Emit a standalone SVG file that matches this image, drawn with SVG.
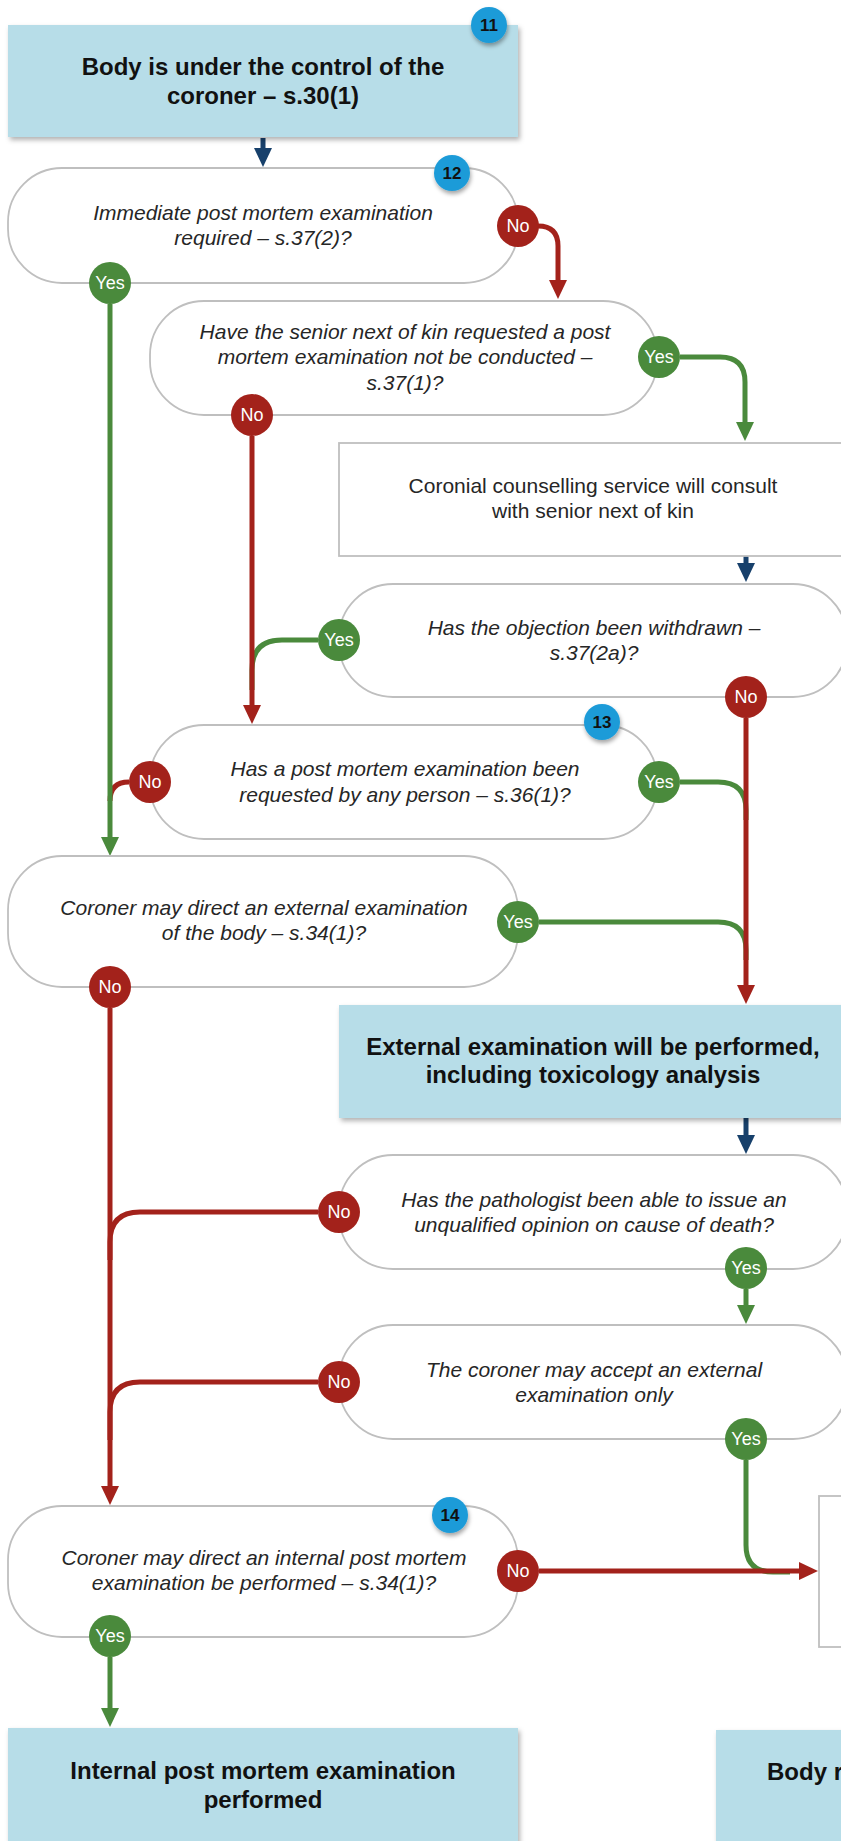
<svg xmlns="http://www.w3.org/2000/svg" width="841" height="1841" viewBox="0 0 841 1841">
<defs>
<style>
.blue{fill:#B7DDE8;filter:url(#sh)}
.dec{fill:#fff;stroke:#BFBFBF;stroke-width:1.8}
.box{fill:#fff;stroke:#BFBFBF;stroke-width:1.8}
.badge{fill:#1C9BD8;filter:url(#sh2)}
.bt{font-family:"Liberation Sans",Arial,sans-serif;font-weight:bold;font-size:17px;fill:#111;text-anchor:middle}
.title{font-family:"Liberation Sans",Arial,sans-serif;font-weight:bold;font-size:24px;fill:#111;text-anchor:middle}
.q{font-family:"Liberation Sans",Arial,sans-serif;font-style:italic;font-size:21px;fill:#262626;text-anchor:middle}
.t{font-family:"Liberation Sans",Arial,sans-serif;font-size:21px;fill:#262626;text-anchor:middle}
.lab{font-family:"Liberation Sans",Arial,sans-serif;font-size:18px;fill:#fff;text-anchor:middle}
.yes{fill:#4A8A3C}
.no{fill:#A3221B}
.cg{fill:none;stroke:#4A8A3C;stroke-width:5;marker-end:url(#ag)}
.cg0{fill:none;stroke:#4A8A3C;stroke-width:5}
.cr{fill:none;stroke:#A3221B;stroke-width:5;marker-end:url(#ar)}
.cr0{fill:none;stroke:#A3221B;stroke-width:5}
.cn{fill:none;stroke:#17406B;stroke-width:5;marker-end:url(#an)}
</style>
<filter id="sh" x="-5%" y="-10%" width="115%" height="130%">
<feDropShadow dx="2" dy="3" stdDeviation="2.5" flood-color="#000" flood-opacity="0.3"/>
</filter>
<filter id="sh2" x="-30%" y="-30%" width="170%" height="170%">
<feDropShadow dx="1" dy="3" stdDeviation="2" flood-color="#000" flood-opacity="0.35"/>
</filter>
<marker id="ag" markerUnits="userSpaceOnUse" markerWidth="20" markerHeight="20" refX="1" refY="10" orient="auto"><path d="M0,1 L19,10 L0,19 z" fill="#4A8A3C"/></marker>
<marker id="ar" markerUnits="userSpaceOnUse" markerWidth="20" markerHeight="20" refX="1" refY="10" orient="auto"><path d="M0,1 L19,10 L0,19 z" fill="#A3221B"/></marker>
<marker id="an" markerUnits="userSpaceOnUse" markerWidth="20" markerHeight="20" refX="1" refY="10" orient="auto"><path d="M0,1 L19,10 L0,19 z" fill="#17406B"/></marker>
</defs>
<rect width="841" height="1841" fill="#fff"/>

<g id="connectors">
<path class="cr0" d="M129,782 Q110,782 110,801"/>
<path class="cg" d="M110,304 V838"/>
<path class="cg" d="M680,357 H720 Q745,357 745,382 V423"/>
<path class="cg0" d="M318,640 H282 Q252,640 252,670 V690"/>
<path class="cg0" d="M680,782 H718 Q746,782 746,810 V820"/>
<path class="cg0" d="M539,922 H718 Q746,922 746,950 V960"/>
<path class="cg" d="M746,1289 V1306"/>
<path class="cg0" d="M746,1460 V1545 Q746,1572 773,1572 H790"/>
<path class="cg" d="M110,1657 V1709"/>
<path class="cn" d="M263,138 V149"/>
<path class="cn" d="M746,556 V564"/>
<path class="cn" d="M746,1118 V1136"/>
<path class="cr" d="M537,226 H538 Q558,226 558,246 V281"/>
<path class="cr" d="M252,436 V706"/>
<path class="cr" d="M746,718 V986"/>
<path class="cr0" d="M318,1212 H140 Q110,1212 110,1242 V1260"/>
<path class="cr0" d="M318,1382 H140 Q110,1382 110,1412 V1440"/>
<path class="cr" d="M110,1008 V1487"/>
<path class="cr" d="M539,1571 H800"/>
</g>

<g id="n11">
<rect class="blue" x="8" y="25" width="510" height="112"/>
<text class="title" x="263" y="75">Body is under the control of the</text>
<text class="title" x="263" y="104">coroner – s.30(1)</text>
<circle class="badge" cx="489" cy="25" r="18"/>
<text class="bt" x="489" y="31">11</text>
</g>

<g id="n12">
<rect class="dec" x="8" y="168" width="510" height="115" rx="54" ry="54"/>
<text class="q" x="263" y="220">Immediate post mortem examination</text>
<text class="q" x="263" y="245">required – s.37(2)?</text>
<circle class="badge" cx="452" cy="173" r="18"/>
<text class="bt" x="452" y="179">12</text>
</g>

<g id="n-nok">
<rect class="dec" x="150" y="301" width="507" height="114" rx="54" ry="54"/>
<text class="q" x="405" y="339">Have the senior next of kin requested a post</text>
<text class="q" x="405" y="364">mortem examination not be conducted –</text>
<text class="q" x="405" y="390">s.37(1)?</text>
</g>

<g id="n-counsel">
<rect class="box" x="339" y="443" width="508" height="113"/>
<text class="t" x="593" y="493">Coronial counselling service will consult</text>
<text class="t" x="593" y="518">with senior next of kin</text>
</g>

<g id="n-objection">
<rect class="dec" x="339" y="584" width="508" height="113" rx="54" ry="54"/>
<text class="q" x="594" y="635">Has the objection been withdrawn –</text>
<text class="q" x="594" y="660">s.37(2a)?</text>
</g>

<g id="n13">
<rect class="dec" x="150" y="725" width="507" height="114" rx="54" ry="54"/>
<text class="q" x="405" y="776">Has a post mortem examination been</text>
<text class="q" x="405" y="802">requested by any person – s.36(1)?</text>
<circle class="badge" cx="602" cy="722" r="18"/>
<text class="bt" x="602" y="728">13</text>
</g>

<g id="n-external">
<rect class="dec" x="8" y="856" width="510" height="131" rx="54" ry="54"/>
<text class="q" x="264" y="915">Coroner may direct an external examination</text>
<text class="q" x="264" y="940">of the body – s.34(1)?</text>
</g>

<g id="n-extexam">
<rect class="blue" x="339" y="1005" width="508" height="113"/>
<text class="title" x="593" y="1055">External examination will be performed,</text>
<text class="title" x="593" y="1083">including toxicology analysis</text>
</g>

<g id="n-patho">
<rect class="dec" x="339" y="1155" width="508" height="114" rx="54" ry="54"/>
<text class="q" x="594" y="1207">Has the pathologist been able to issue an</text>
<text class="q" x="594" y="1232">unqualified opinion on cause of death?</text>
</g>

<g id="n-accept">
<rect class="dec" x="339" y="1325" width="508" height="114" rx="54" ry="54"/>
<text class="q" x="594" y="1377">The coroner may accept an external</text>
<text class="q" x="594" y="1402">examination only</text>
</g>

<g id="n14">
<rect class="dec" x="8" y="1506" width="510" height="131" rx="54" ry="54"/>
<text class="q" x="264" y="1565">Coroner may direct an internal post mortem</text>
<text class="q" x="264" y="1590">examination be performed – s.34(1)?</text>
<circle class="badge" cx="450" cy="1515" r="18"/>
<text class="bt" x="450" y="1521">14</text>
</g>

<g id="n-right">
<rect class="box" x="819" y="1496" width="60" height="151"/>
</g>

<g id="n-internal">
<rect class="blue" x="8" y="1728" width="510" height="130"/>
<text class="title" x="263" y="1779">Internal post mortem examination</text>
<text class="title" x="263" y="1808">performed</text>
</g>

<g id="n-body">
<rect class="blue" x="716" y="1730" width="200" height="130"/>
<text class="title" x="767" y="1780" style="text-anchor:start">Body r</text>
</g>

<g id="labels">
<circle class="no" cx="518" cy="226" r="21"/><text class="lab" x="518" y="232">No</text>
<circle class="yes" cx="110" cy="283" r="21"/><text class="lab" x="110" y="289">Yes</text>
<circle class="yes" cx="659" cy="357" r="21"/><text class="lab" x="659" y="363">Yes</text>
<circle class="no" cx="252" cy="415" r="21"/><text class="lab" x="252" y="421">No</text>
<circle class="yes" cx="339" cy="640" r="21"/><text class="lab" x="339" y="646">Yes</text>
<circle class="no" cx="746" cy="697" r="21"/><text class="lab" x="746" y="703">No</text>
<circle class="no" cx="150" cy="782" r="21"/><text class="lab" x="150" y="788">No</text>
<circle class="yes" cx="659" cy="782" r="21"/><text class="lab" x="659" y="788">Yes</text>
<circle class="yes" cx="518" cy="922" r="21"/><text class="lab" x="518" y="928">Yes</text>
<circle class="no" cx="110" cy="987" r="21"/><text class="lab" x="110" y="993">No</text>
<circle class="no" cx="339" cy="1212" r="21"/><text class="lab" x="339" y="1218">No</text>
<circle class="yes" cx="746" cy="1268" r="21"/><text class="lab" x="746" y="1274">Yes</text>
<circle class="no" cx="339" cy="1382" r="21"/><text class="lab" x="339" y="1388">No</text>
<circle class="yes" cx="746" cy="1439" r="21"/><text class="lab" x="746" y="1445">Yes</text>
<circle class="no" cx="518" cy="1571" r="21"/><text class="lab" x="518" y="1577">No</text>
<circle class="yes" cx="110" cy="1636" r="21"/><text class="lab" x="110" y="1642">Yes</text>
</g>
</svg>
